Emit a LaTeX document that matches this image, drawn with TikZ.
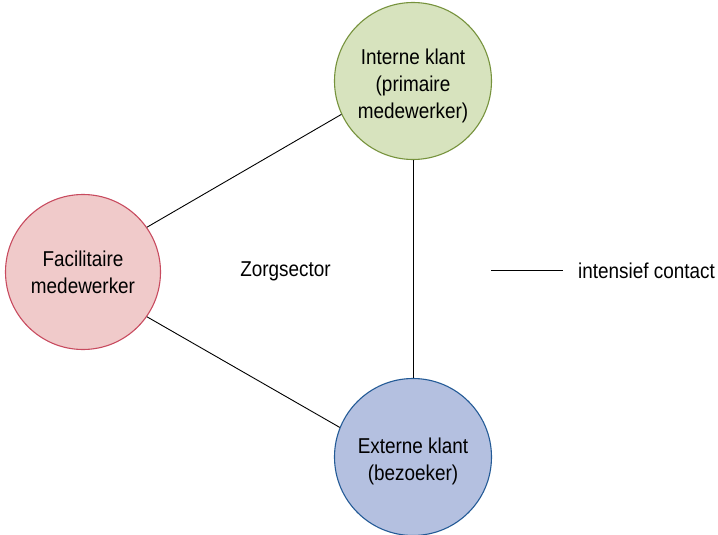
\documentclass[tikz,border=0pt]{standalone}
\usepackage{fontspec}
\setmainfont{Liberation Sans}[FakeStretch=0.88]
\begin{document}
\definecolor{greenfill}{RGB}{215,227,190}
\definecolor{greenline}{RGB}{118,146,60}
\definecolor{redfill}{RGB}{240,202,202}
\definecolor{redline}{RGB}{200,75,95}
\definecolor{bluefill}{RGB}{180,192,224}
\definecolor{blueline}{RGB}{35,90,150}
\begin{tikzpicture}[x=1pt,y=-1pt,
  party/.style={circle,minimum size=157pt,inner sep=0pt,line width=1.1pt},
  link/.style={line width=0.9pt,black},
  lbl/.style={font=\fontsize{21.5}{27}\selectfont,inner sep=0pt,align=center}]
\useasboundingbox (0,0) rectangle (718,535);
% the three parties
\node[party,fill=greenfill,draw=greenline] (intern) at (413,81) {};
\node[party,fill=redfill,draw=redline,minimum size=155pt] (facil) at (83,272) {};
\node[party,fill=bluefill,draw=blueline] (extern) at (413,457) {};
\node[lbl] (intern-txt) at (413,85.5) {Interne klant\\(primaire\\medewerker)};
\node[lbl] (facil-txt) at (83,272) {Facilitaire\\medewerker};
\node[lbl] (extern-txt) at (413,461) {Externe klant\\(bezoeker)};
% contact lines
\draw[link] (facil.35) -- (intern.205);
\draw[link] (facil.-35) -- (extern.158);
\draw[link] (intern.south) -- (extern.north);
\node[lbl] (sector) at (285.5,271) {Zorgsector};
% legend
\coordinate (keyA) at (491,270);
\coordinate (keyB) at (563,270);
\draw[link] (keyA) -- (keyB);
\node[lbl,anchor=west] (keytext) at (578,271) {intensief contact};
\end{tikzpicture}
\end{document}
